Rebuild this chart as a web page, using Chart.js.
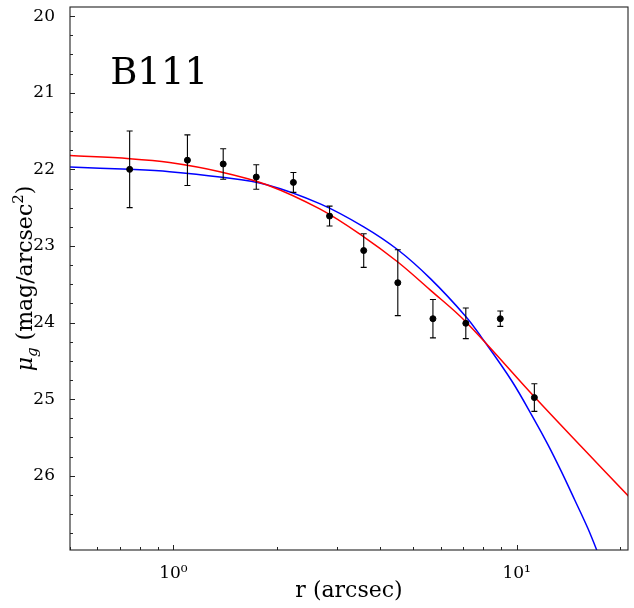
<!DOCTYPE html>
<html>
<head>
<meta charset="utf-8">
<script src="https://cdn.jsdelivr.net/npm/chart.js@4/dist/chart.umd.min.js"></script>
<style>
  html, body { margin: 0; padding: 0; background: #fff; }
  #profileChart { display: block; }
</style>
</head>
<body>
<canvas id="profileChart" width="634" height="608"></canvas>
<script>
// B111 surface brightness profile, g band
const radius = [0.746, 1.099, 1.397, 1.744, 2.237, 2.851, 3.585, 4.506, 5.703, 7.11, 8.96, 11.26];
const mu = [22.00, 21.88, 21.93, 22.10, 22.17, 22.61, 23.06, 23.48, 23.95, 24.01, 23.95, 24.98];
const muErr = [0.50, 0.33, 0.20, 0.16, 0.13, 0.13, 0.22, 0.43, 0.25, 0.20, 0.10, 0.18];

// fitted profiles
const redR = [0.5, 0.746, 0.975, 1.366, 1.870, 2.678, 3.585, 4.506, 5.616, 7.107, 11.26, 15.42, 21.2];
const redMu = [21.82, 21.86, 21.91, 22.03, 22.20, 22.52, 22.88, 23.21, 23.58, 23.99, 24.97, 25.62, 26.27];
const blueR = [0.5, 0.746, 0.975, 1.366, 1.870, 2.678, 3.585, 4.506, 5.616, 7.107, 7.864, 9.67, 11.26, 12.32, 13.48, 14.74, 16.13, 17.64];
const blueMu = [21.97, 22.00, 22.03, 22.10, 22.20, 22.45, 22.75, 23.05, 23.43, 23.92, 24.18, 24.76, 25.27, 25.59, 25.94, 26.31, 26.69, 27.12];

const xMajor = [1, 10];
const xMinor = [0.5, 0.6, 0.7, 0.8, 0.9, 2, 3, 4, 5, 6, 7, 8, 9, 20];
const yMajor = [20, 21, 22, 23, 24, 25, 26];
const galaxyName = "B111";

const serif = "'DejaVu Serif', serif";
const ink = "#000000";

function toPoints(xs, ys) {
  return xs.map((x, i) => ({ x: x, y: ys[i] }));
}

// error bars go under the markers
const errorBars = {
  id: "errorBars",
  beforeDatasetDraw(chart, args) {
    if (args.index !== 0) return;
    const ctx = chart.ctx;
    const xs = chart.scales.x, ys = chart.scales.y;
    ctx.save();
    ctx.strokeStyle = ink;
    ctx.lineWidth = 1.1;
    radius.forEach((r, i) => {
      const px = xs.getPixelForValue(r);
      const top = ys.getPixelForValue(mu[i] - muErr[i]);
      const bot = ys.getPixelForValue(mu[i] + muErr[i]);
      ctx.beginPath();
      ctx.moveTo(px, top); ctx.lineTo(px, bot);
      ctx.moveTo(px - 3, top); ctx.lineTo(px + 3, top);
      ctx.moveTo(px - 3, bot); ctx.lineTo(px + 3, bot);
      ctx.stroke();
    });
    ctx.restore();
  }
};

// frame, inward ticks, axis titles and the name label
const decorations = {
  id: "decorations",
  afterDraw(chart) {
    const ctx = chart.ctx;
    const a = chart.chartArea;
    const xs = chart.scales.x, ys = chart.scales.y;
    ctx.save();
    ctx.strokeStyle = "#222";
    ctx.lineWidth = 1.1;
    ctx.strokeRect(a.left, a.top, a.right - a.left, a.bottom - a.top);

    ctx.lineWidth = 1;
    ctx.beginPath();
    xMajor.forEach(v => {
      const p = Math.round(xs.getPixelForValue(v)) + 0.5;
      ctx.moveTo(p, a.bottom); ctx.lineTo(p, a.bottom - 5);
    });
    xMinor.forEach(v => {
      const p = Math.round(xs.getPixelForValue(v)) + 0.5;
      ctx.moveTo(p, a.bottom); ctx.lineTo(p, a.bottom - 3);
    });
    yMajor.forEach(v => {
      const p = Math.round(ys.getPixelForValue(v)) + 0.5;
      ctx.moveTo(a.left, p); ctx.lineTo(a.left + 5, p);
    });
    for (let v = 20; v < 27; v += 0.25) {
      if (Number.isInteger(v)) continue;
      const p = Math.round(ys.getPixelForValue(v)) + 0.5;
      if (p < a.top || p > a.bottom) continue;
      ctx.moveTo(a.left, p); ctx.lineTo(a.left + 3, p);
    }
    ctx.stroke();

    // x title
    ctx.fillStyle = ink;
    ctx.font = "22px " + serif;
    ctx.textAlign = "center";
    ctx.textBaseline = "alphabetic";
    ctx.fillText("r (arcsec)", (a.left + a.right) / 2, 597);

    // y title: mu_g (mag/arcsec^2)
    const parts = [
      { t: "\u03bc", f: "italic 22px " + serif, dy: 0 },
      { t: "g", f: "italic 15px " + serif, dy: 5 },
      { t: " (mag/arcsec", f: "22px " + serif, dy: 0 },
      { t: "2", f: "15px " + serif, dy: -9 },
      { t: ")", f: "22px " + serif, dy: 0 }
    ];
    let total = 0;
    parts.forEach(p => { ctx.font = p.f; p.w = ctx.measureText(p.t).width; total += p.w; });
    ctx.translate(32, (a.top + a.bottom) / 2);
    ctx.rotate(-Math.PI / 2);
    ctx.textAlign = "left";
    let cx = -total / 2;
    parts.forEach(p => {
      ctx.font = p.f;
      ctx.fillText(p.t, cx, p.dy);
      cx += p.w;
    });
    ctx.setTransform(1, 0, 0, 1, 0, 0);
    ctx.scale(chart.currentDevicePixelRatio, chart.currentDevicePixelRatio);

    // galaxy name
    ctx.font = "37px " + serif;
    ctx.textAlign = "left";
    ctx.fillText(galaxyName, a.left + 0.072 * (a.right - a.left), a.top + 0.142 * (a.bottom - a.top));
    ctx.restore();
  }
};

const ctx = document.getElementById("profileChart").getContext("2d");
new Chart(ctx, {
  type: "scatter",
  data: {
    datasets: [
      {
        label: "data",
        data: toPoints(radius, mu),
        backgroundColor: ink,
        borderColor: ink,
        pointRadius: 3,
        pointHoverRadius: 3,
        showLine: false
      },
      {
        label: "fit red",
        data: toPoints(redR, redMu),
        borderColor: "#ff0000",
        borderWidth: 1.5,
        pointRadius: 0,
        showLine: true,
        tension: 0.35
      },
      {
        label: "fit blue",
        data: toPoints(blueR, blueMu),
        borderColor: "#0000ff",
        borderWidth: 1.5,
        pointRadius: 0,
        showLine: true,
        tension: 0.35
      }
    ]
  },
  options: {
    responsive: false,
    animation: false,
    layout: {
      padding: { top: 7, right: 6, left: 0, bottom: 0 }
    },
    plugins: {
      legend: { display: false },
      tooltip: { enabled: false }
    },
    scales: {
      x: {
        type: "logarithmic",
        min: 0.5,
        max: 21.1,
        grid: { display: false },
        border: { display: false },
        afterBuildTicks(scale) {
          scale.ticks = xMajor.map(v => ({ value: v }));
        },
        afterFit(scale) {
          scale.height = 58;
          scale.paddingLeft = 0;
          scale.paddingRight = 0;
        },
        ticks: {
          color: ink,
          font: { family: serif, size: 17 },
          padding: 5,
          maxRotation: 0,
          callback: v => (v === 1 ? "10\u2070" : v === 10 ? "10\u00b9" : "")
        }
      },
      y: {
        type: "linear",
        reverse: true,
        min: 19.88,
        max: 26.97,
        grid: { display: false },
        border: { display: false },
        afterBuildTicks(scale) {
          scale.ticks = yMajor.map(v => ({ value: v }));
        },
        afterFit(scale) {
          scale.width = 70;
          scale.paddingTop = 0;
          scale.paddingBottom = 0;
        },
        ticks: {
          color: ink,
          font: { family: serif, size: 17 },
          padding: 7
        }
      }
    }
  },
  plugins: [errorBars, decorations]
});
</script>
</body>
</html>
